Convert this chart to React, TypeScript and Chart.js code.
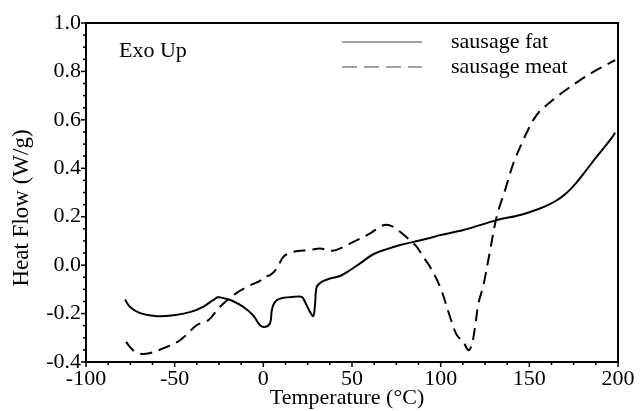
import React, { useEffect, useRef } from "react";
import { Chart, registerables } from "chart.js";

Chart.register(...registerables);

// ---- data ----
const fatTemps = [
  -78, -75.3, -69.5, -60, -50.6, -41, -34, -28.4, -25.6, -21.6, -17, -11.4, -5.8, -1.9, 1, 3.8, 4.7, 5.6,
  7.5, 11.3, 16.9, 21.7, 23.5, 26.3, 28.2, 29.2, 30.1, 32.9, 37.6, 43.3, 48.9, 54.5, 62, 69.6, 77.1, 84.6,
  94, 99.7, 112.8, 131.6, 144.8, 156, 161, 165.5, 169.2, 173, 176.8, 180.5, 188, 195.6, 198.4,
];
const fatFlows = [
  -0.142, -0.172, -0.198, -0.211, -0.207, -0.193, -0.172, -0.145, -0.133, -0.138, -0.149, -0.172, -0.207,
  -0.248, -0.255, -0.24, -0.19, -0.165, -0.145, -0.135, -0.131, -0.131, -0.152, -0.193, -0.21, -0.158, -0.09,
  -0.069, -0.055, -0.045, -0.021, 0.007, 0.045, 0.066, 0.083, 0.096, 0.112, 0.124, 0.145, 0.186, 0.207, 0.234,
  0.25, 0.268, 0.287, 0.312, 0.343, 0.377, 0.448, 0.517, 0.547,
];
const meatTemps = [
  -77.4, -75.2, -71.4, -65, -56.6, -47, -37.6, -31, -28.4, -24.4, -16.9, -7.5, -1.9, 0, 3.8, 7.6, 11.3, 16.9,
  26.3, 32, 38.6, 43.3, 50.8, 60.2, 67.7, 72.4, 77.1, 83.7, 86.5, 90.2, 94, 99.7, 105.3, 109.1, 112.8, 115.6,
  117.5, 119.4, 121.3, 124.1, 127.9, 131.6, 136.3, 141, 146.6, 149.5, 152.3, 156, 159.8, 164.5, 169.2, 178.6,
  188, 198.4,
];
const meatFlows = [
  -0.317, -0.338, -0.362, -0.365, -0.344, -0.31, -0.248, -0.227, -0.207, -0.172, -0.124, -0.083, -0.065,
  -0.048, -0.041, -0.014, 0.034, 0.055, 0.062, 0.069, 0.059, 0.069, 0.096, 0.131, 0.165, 0.161, 0.138, 0.096,
  0.076, 0.034, -0.007, -0.09, -0.214, -0.289, -0.317, -0.351, -0.33, -0.255, -0.158, -0.083, 0.062, 0.2, 0.31,
  0.42, 0.517, 0.562, 0.6, 0.637, 0.661, 0.69, 0.716, 0.764, 0.806, 0.847,
];
const seriesNames = ["sausage fat", "sausage meat"];
const xTitle = "Temperature (°C)";
const yTitle = "Heat Flow (W/g)";
const noteText = "Exo Up";
const xMin = -100, xMax = 200, xMajor = 50, xMinor = 12.5;
const yMin = -0.4, yMax = 1.0, yMinor = 0.05;

const FONT = "'Liberation Serif', 'Times New Roman', serif";

const isMajorX = (v: number) => Math.abs(v / xMajor - Math.round(v / xMajor)) < 1e-6;
const isMajorY = (v: number) => {
  const k = Math.round(v * 10);
  return Math.abs(v * 10 - k) < 1e-6 && k % 2 === 0;
};
const yLabel = (v: number) => {
  const k = Math.round(v * 10);
  return k === 0 ? "0.0" : (k / 10).toFixed(1);
};

const decor = {
  id: "decor",
  afterDraw(chart: any) {
    const { ctx, chartArea: a, scales } = chart;
    ctx.save();
    ctx.strokeStyle = "#000";
    ctx.lineWidth = 2;
    ctx.setLineDash([]);
    ctx.strokeRect(a.left, a.top, a.right - a.left, a.bottom - a.top);
    ctx.lineWidth = 1.5;
    const xs = scales.x;
    xs.ticks.forEach((t: any) => {
      const p = xs.getPixelForValue(t.value);
      const len = isMajorX(t.value) ? 5 : 3;
      ctx.beginPath();
      ctx.moveTo(p, a.bottom);
      ctx.lineTo(p, a.bottom + len);
      ctx.stroke();
    });
    const ys = scales.y;
    ys.ticks.forEach((t: any) => {
      const p = ys.getPixelForValue(t.value);
      const len = isMajorY(t.value) ? 5 : 3;
      ctx.beginPath();
      ctx.moveTo(a.left, p);
      ctx.lineTo(a.left - len, p);
      ctx.stroke();
    });

    ctx.fillStyle = "#000";
    // x title
    ctx.font = `22px ${FONT}`;
    ctx.textAlign = "center";
    ctx.textBaseline = "alphabetic";
    ctx.fillText(xTitle, 347, 404);
    // y title
    ctx.save();
    ctx.translate(28, 208);
    ctx.rotate(-Math.PI / 2);
    ctx.font = `23px ${FONT}`;
    ctx.fillText(yTitle, 0, 0);
    ctx.restore();
    // note
    ctx.font = `22px ${FONT}`;
    ctx.textAlign = "left";
    ctx.fillText(noteText, 119, 57);
    // legend
    ctx.strokeStyle = "#444";
    ctx.lineWidth = 1.2;
    ctx.beginPath();
    ctx.moveTo(342, 42);
    ctx.lineTo(422, 42);
    ctx.stroke();
    ctx.setLineDash([15, 7]);
    ctx.beginPath();
    ctx.moveTo(342, 67);
    ctx.lineTo(422, 67);
    ctx.stroke();
    ctx.setLineDash([]);
    ctx.fillText(seriesNames[0], 451, 48);
    ctx.fillText(seriesNames[1], 451, 73);
    ctx.restore();
  },
};

export default function App() {
  const ref = useRef<HTMLCanvasElement | null>(null);
  useEffect(() => {
    if (!ref.current) return;
    const chart = new Chart(ref.current, {
      type: "line",
      data: {
        datasets: [
          {
            label: seriesNames[0],
            data: fatTemps.map((x, i) => ({ x, y: fatFlows[i] })),
            borderColor: "#000",
            borderWidth: 2,
            pointRadius: 0,
            tension: 0.35,
            fill: false,
          },
          {
            label: seriesNames[1],
            data: meatTemps.map((x, i) => ({ x, y: meatFlows[i] })),
            borderColor: "#000",
            borderWidth: 2,
            borderDash: [12, 7],
            pointRadius: 0,
            tension: 0.35,
            fill: false,
          },
        ],
      },
      options: {
        responsive: false,
        animation: false,
        layout: { padding: { top: 23, right: 23, left: 0, bottom: 0 } },
        plugins: { legend: { display: false }, tooltip: { enabled: false } },
        scales: {
          x: {
            type: "linear",
            min: xMin,
            max: xMax,
            grid: { display: false, drawTicks: false },
            border: { display: false },
            ticks: {
              stepSize: xMinor,
              autoSkip: false,
              maxRotation: 0,
              padding: 4,
              color: "#000",
              font: { family: FONT, size: 22 },
              callback: (v: any) => (isMajorX(Number(v)) ? String(Math.round(Number(v))) : ""),
            },
            afterFit: (s: any) => {
              s.height = 49;
            },
          },
          y: {
            type: "linear",
            min: yMin,
            max: yMax,
            grid: { display: false, drawTicks: false },
            border: { display: false },
            ticks: {
              stepSize: yMinor,
              autoSkip: false,
              padding: 5,
              color: "#000",
              font: { family: FONT, size: 22 },
              callback: (v: any) => (isMajorY(Number(v)) ? yLabel(Number(v)) : ""),
            },
            afterFit: (s: any) => {
              s.width = 86;
            },
          },
        },
      },
      plugins: [decor],
    } as any);
    return () => chart.destroy();
  }, []);
  return (
    <div style={{ position: "fixed", left: 0, top: 0, width: 641, height: 411, background: "#fff" }}>
      <canvas ref={ref} width={641} height={411} style={{ width: 641, height: 411 }} />
    </div>
  );
}
